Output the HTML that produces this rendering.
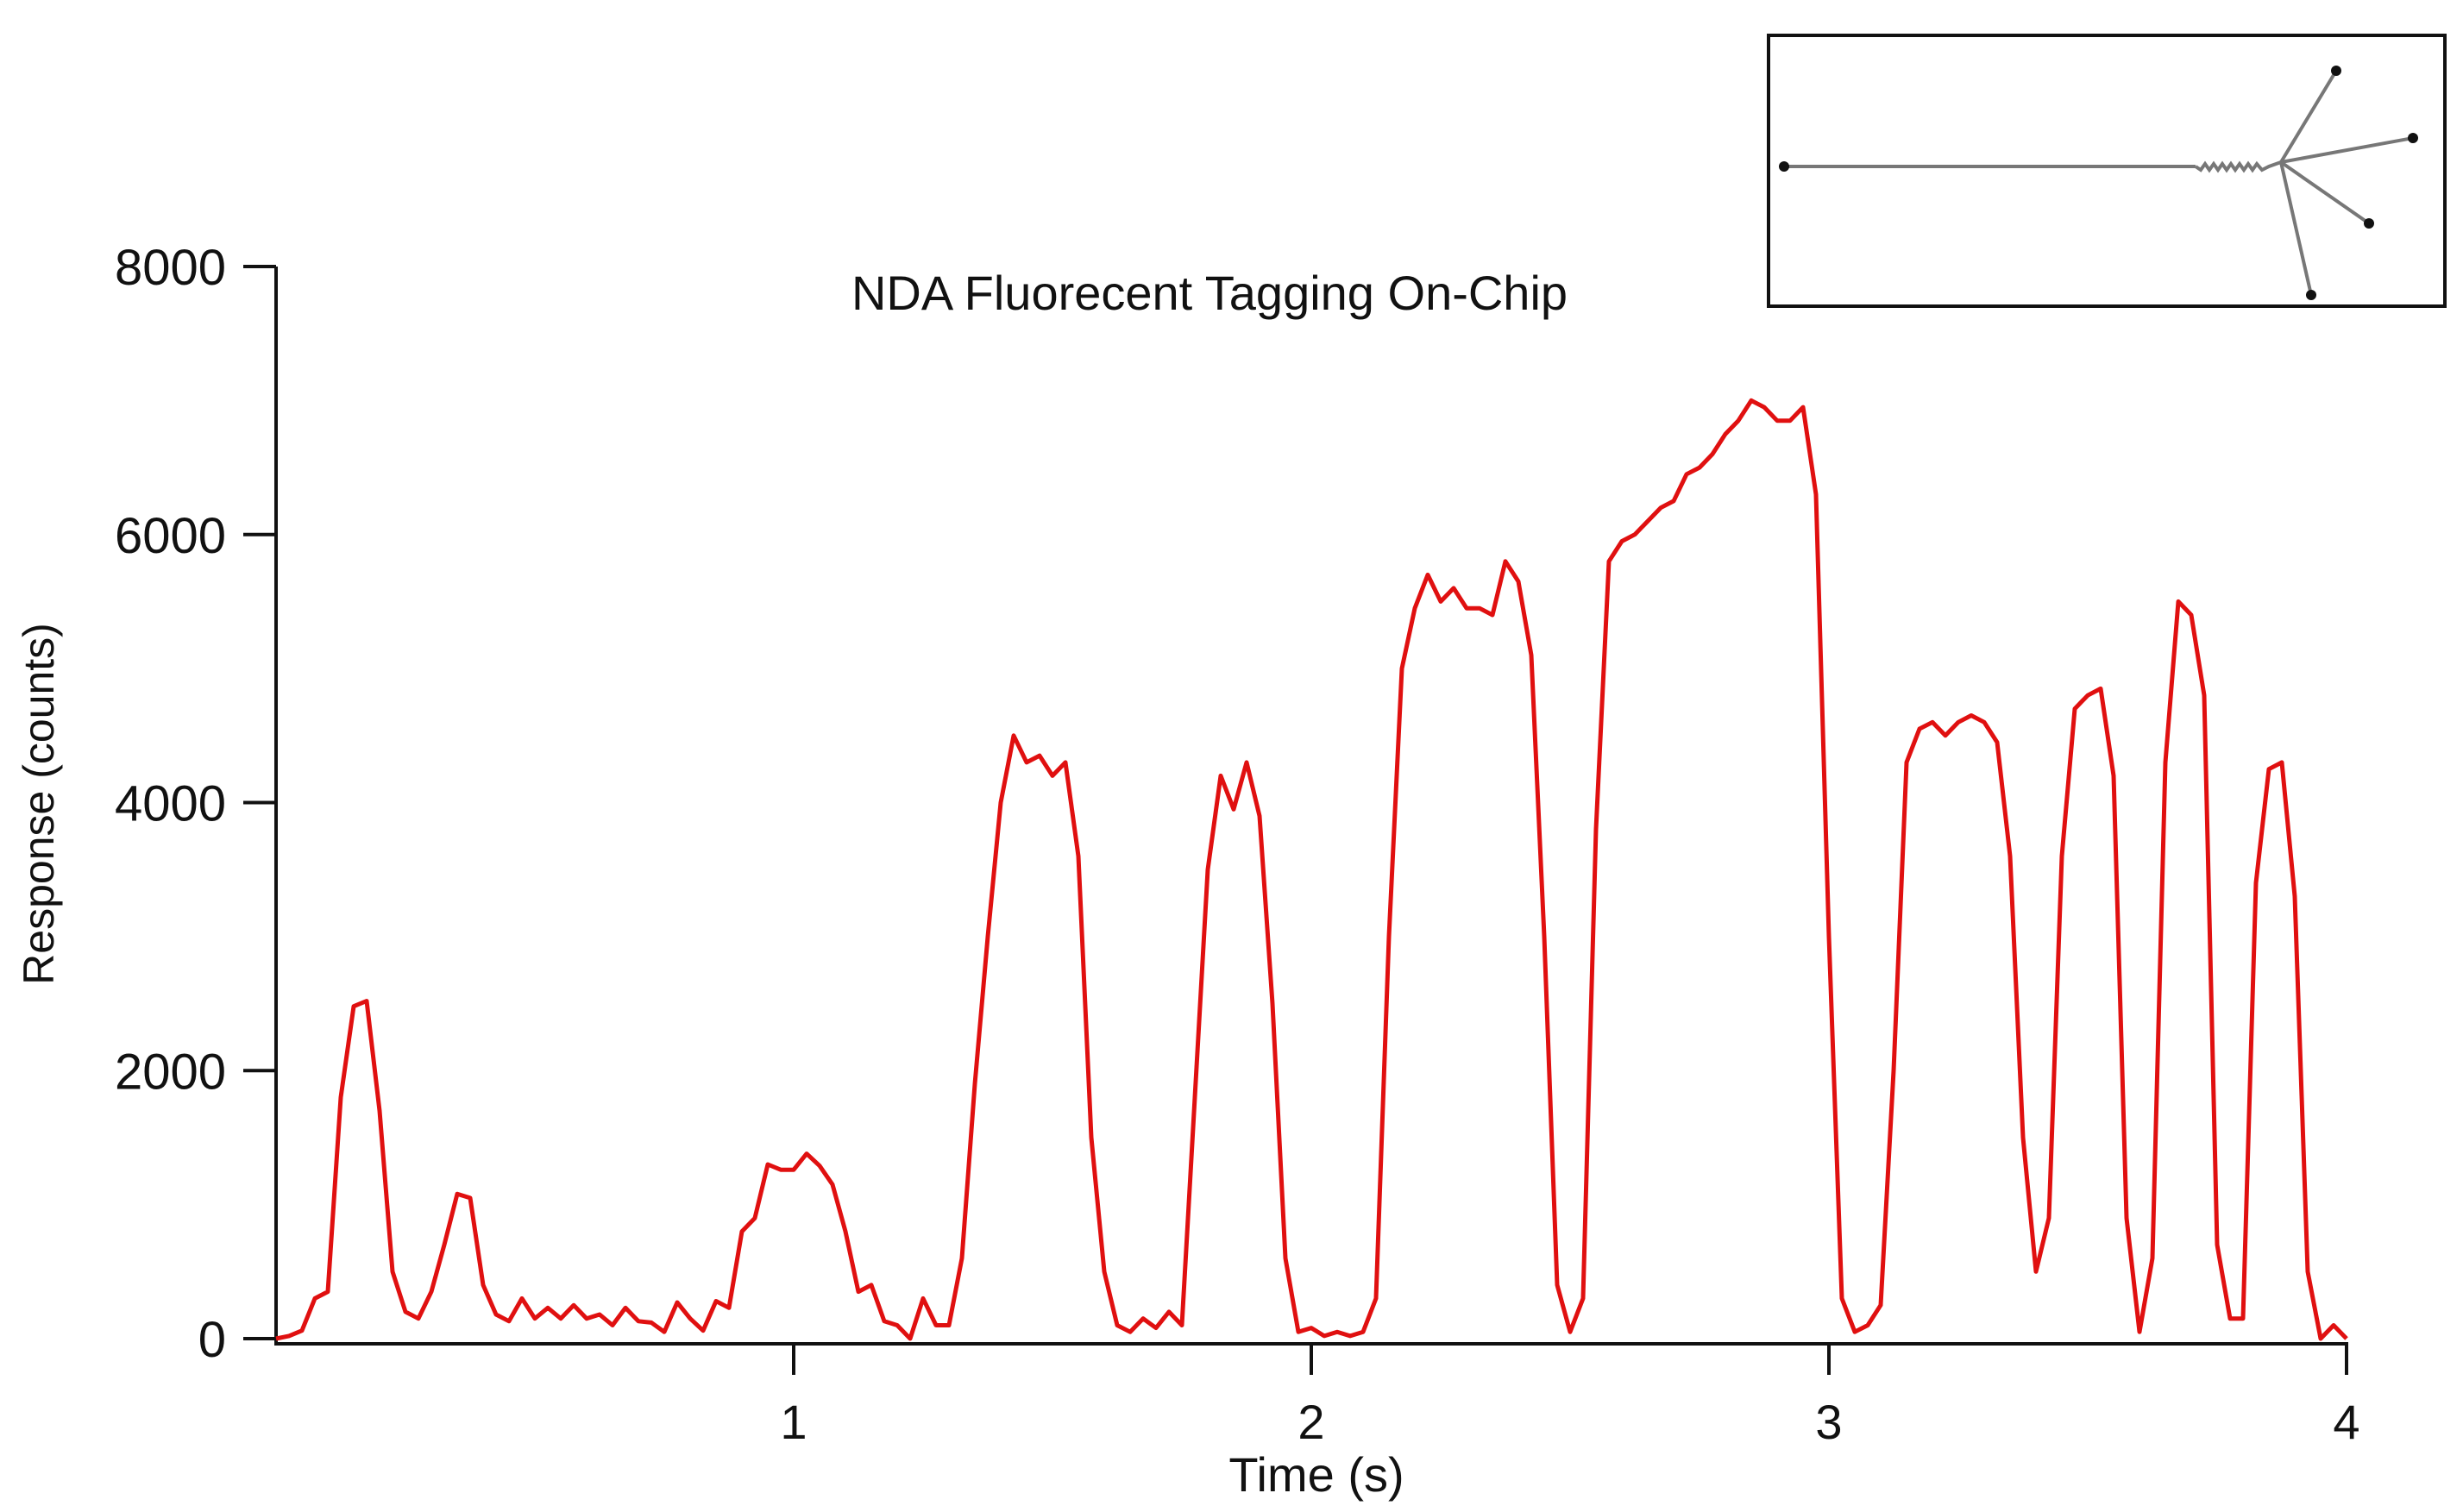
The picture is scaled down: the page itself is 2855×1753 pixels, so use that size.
<!DOCTYPE html>
<html><head><meta charset="utf-8"><style>
html,body{margin:0;padding:0;background:#fff;}
svg{display:block;font-family:"Liberation Sans",Arial,sans-serif;}
</style></head><body>
<svg id="chart" width="2855" height="1753" viewBox="0 0 2855 1753">
<rect width="2855" height="1753" fill="#fff"/>
<text x="1402" y="359" font-size="56" text-anchor="middle" fill="#111">NDA Fluorecent Tagging On-Chip</text>
<text transform="translate(62,932) rotate(-90)" font-size="50" text-anchor="middle" fill="#111">Response (counts)</text>
<text x="1526" y="1729" font-size="56" text-anchor="middle" fill="#111">Time (s)</text>
<g id="axes"></g>
<g id="series"></g>
<g>
<rect x="2050" y="41" width="784" height="314" fill="#fff" stroke="#111" stroke-width="4"/>
<g stroke="#777" stroke-width="4" fill="none">
<line x1="2068" y1="193" x2="2545" y2="193"/>
<polyline points="2545,193 2551,197 2556,190 2561,197 2566,190 2571,197 2576,190 2581,197 2586,190 2591,197 2596,190 2601,197 2606,190 2611,197 2616,190 2622,197 2630,193 2644,188"/>
<line x1="2644" y1="188" x2="2708" y2="82"/>
<line x1="2644" y1="188" x2="2797" y2="160"/>
<line x1="2644" y1="188" x2="2746" y2="259"/>
<line x1="2644" y1="188" x2="2679" y2="342"/>
</g>
<g fill="#111"><circle cx="2068" cy="193" r="6"/><circle cx="2708" cy="82" r="6"/><circle cx="2797" cy="160" r="6"/><circle cx="2746" cy="259" r="6"/><circle cx="2679" cy="342" r="6"/></g>
</g>
</svg>
<script>
const yTicks=[0,2000,4000,6000,8000];
const xTicks=[1,2,3,4];
const times=[];
for(let i=0;i<=160;i++)times.push(i*0.025);
const counts=[0,20,60,300,350,1800,2480,2520,1700,500,200,150,350,700,1080,1050,400,180,130,300,150,230,150,250,150,180,100,230,130,120,50,270,150,60,280,230,800,900,1300,1260,1260,1380,1290,1150,800,350,400,130,100,0,300,100,100,600,1900,3000,4000,4500,4300,4350,4200,4300,3600,1500,500,100,50,150,80,200,100,1800,3500,4200,3950,4300,3900,2500,600,50,80,20,50,20,50,300,3000,5000,5450,5700,5500,5600,5450,5450,5400,5800,5650,5100,3000,400,50,300,3800,5800,5950,6000,6100,6200,6250,6450,6500,6600,6750,6850,7000,6950,6850,6850,6950,6300,3000,300,50,100,250,2000,4300,4550,4600,4500,4600,4650,4600,4450,3600,1500,500,900,3600,4700,4800,4850,4200,900,50,600,4300,5500,5400,4800,700,150,150,3400,4250,4300,3300,500,0,100,0];
const X=t=>320+t*600;
const Y=v=>1552-v*(1243/8000);
const NS="http://www.w3.org/2000/svg";
const axes=document.getElementById('axes');
function mk(tag,attrs,parent){const e=document.createElementNS(NS,tag);for(const k in attrs)e.setAttribute(k,attrs[k]);parent.appendChild(e);return e;}
let yl=mk('line',{x1:320,y1:Y(8000),x2:320,y2:1560,stroke:'#111','stroke-width':4},axes);


let xl=mk('line',{x1:318,y1:1558,x2:X(4)+2,y2:1558,stroke:'#111','stroke-width':4},axes);


yTicks.forEach(v=>{
  let t=mk('line',{x1:282,y1:Y(v),x2:320,y2:Y(v),stroke:'#111','stroke-width':4},axes);
  
  
  let l=mk('text',{x:262,y:Y(v)+21,'font-size':58,'text-anchor':'end',fill:'#111'},axes);
  
  
  l.textContent=v;
});
xTicks.forEach(v=>{
  let t=mk('line',{x1:X(v),y1:1558,x2:X(v),y2:1594,stroke:'#111','stroke-width':4},axes);
  
  
  let l=mk('text',{x:X(v),y:1668,'font-size':56,'text-anchor':'middle',fill:'#111'},axes);
  
  
  l.textContent=v;
});
const pts=times.map((t,i)=>X(t).toFixed(1)+','+Y(counts[i]).toFixed(1)).join(' ');
let p=mk('polyline',{points:pts,fill:'none',stroke:'#e01010','stroke-width':5,'stroke-linejoin':'round'},document.getElementById('series'));


</script>
</body></html>
